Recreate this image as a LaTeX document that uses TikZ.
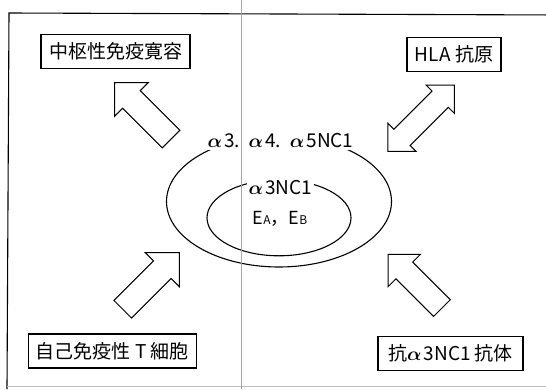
\RequirePackage{fix-cm}
\documentclass[tikz,border=0pt]{standalone}
\usepackage{bm}
\usepackage{fontspec}
\setmainfont{Noto Sans CJK JP}
\usetikzlibrary{shapes.geometric}
\newcommand{\alf}{$\bm{\alpha}$\hspace{0.12em}}
\tikzset{
  arrowline/.style={draw=black, line width=1pt, line join=miter, fill=white},
  fatarrow/.pic={
    \path[arrowline] (0,0) -- (-24,24) -- (-24,12.5) -- (-80,12.5) -- (-80,-12.5) -- (-24,-12.5) -- (-24,-24) -- cycle;
  },
  dblarrow/.pic={
    \path[arrowline] (0,0) -- (-20,20) -- (-20,11.5) -- (-74,11.5) -- (-74,20) -- (-94,0)
      -- (-74,-20) -- (-74,-11.5) -- (-20,-11.5) -- (-20,-20) -- cycle;
  },
  labelbox/.style={draw=black, line width=1.1pt, inner sep=0pt, minimum height=34pt,
    font=\fontsize{19}{22}\selectfont},
  ringtext/.style={fill=white, inner sep=2pt, font=\fontsize{19}{22}\selectfont},
  ring/.style={draw=black, line width=1.1pt, ellipse, inner sep=0pt},
}
\begin{document}
\begin{tikzpicture}[x=1pt, y=-1pt]
  \useasboundingbox (0,0) rectangle (546,389);
  \clip (0,0) rectangle (546,389);
  % outer frame
  \draw[line width=1.1pt] (560,15) -- (9,13) -- (7,389);
  \draw[line width=0.6pt, black!25] (7,386) -- (560,386);
  % boxes
  \node[labelbox, minimum width=149pt] (b1) at (115.5,51.5) {中枢性免疫寛容};
  \node[labelbox, minimum width=94pt] (b2) at (454,54.5) {HLA 抗原};
  \node[labelbox, minimum width=168pt] (b3) at (112.3,351) {自己免疫性 T 細胞};
  \node[labelbox, minimum width=145pt] (b4) at (450.5,353.5) {抗\alf 3NC1 抗体};
  % ellipses
  \node[ring, minimum width=225pt, minimum height=131pt] (outer) at (279,201.5) {};
  \node[ring, minimum width=144pt, minimum height=76pt] (inner) at (279,217.8) {};
  \node[ringtext] (t1) at (280.5,140.5) {\alf 3.\hspace{0.45em}\alf 4.\hspace{0.45em}\alf 5NC1};
  \node[ringtext] (t2) at (280.5,188) {\alf 3NC1};
  \node[font=\fontsize{18}{20}\selectfont] (t3) at (280,218.5)
    {E\raisebox{-0.5pt}{\fontsize{12}{12}\selectfont A}，E\raisebox{-0.5pt}{\fontsize{12}{12}\selectfont B}};
  % fat arrows
  \pic[rotate=135] at (114.5,82.5) {fatarrow};
  \pic[rotate=45] at (179.3,252.7) {fatarrow};
  \pic[rotate=135, scale=0.95] at (388.2,254.3) {fatarrow};
  \pic[rotate=45] at (454.3,85) {dblarrow};
  % scan fold line
  \draw[line width=0.8pt, black!35] (241.5,0) -- (241.5,389);
\end{tikzpicture}
\end{document}
